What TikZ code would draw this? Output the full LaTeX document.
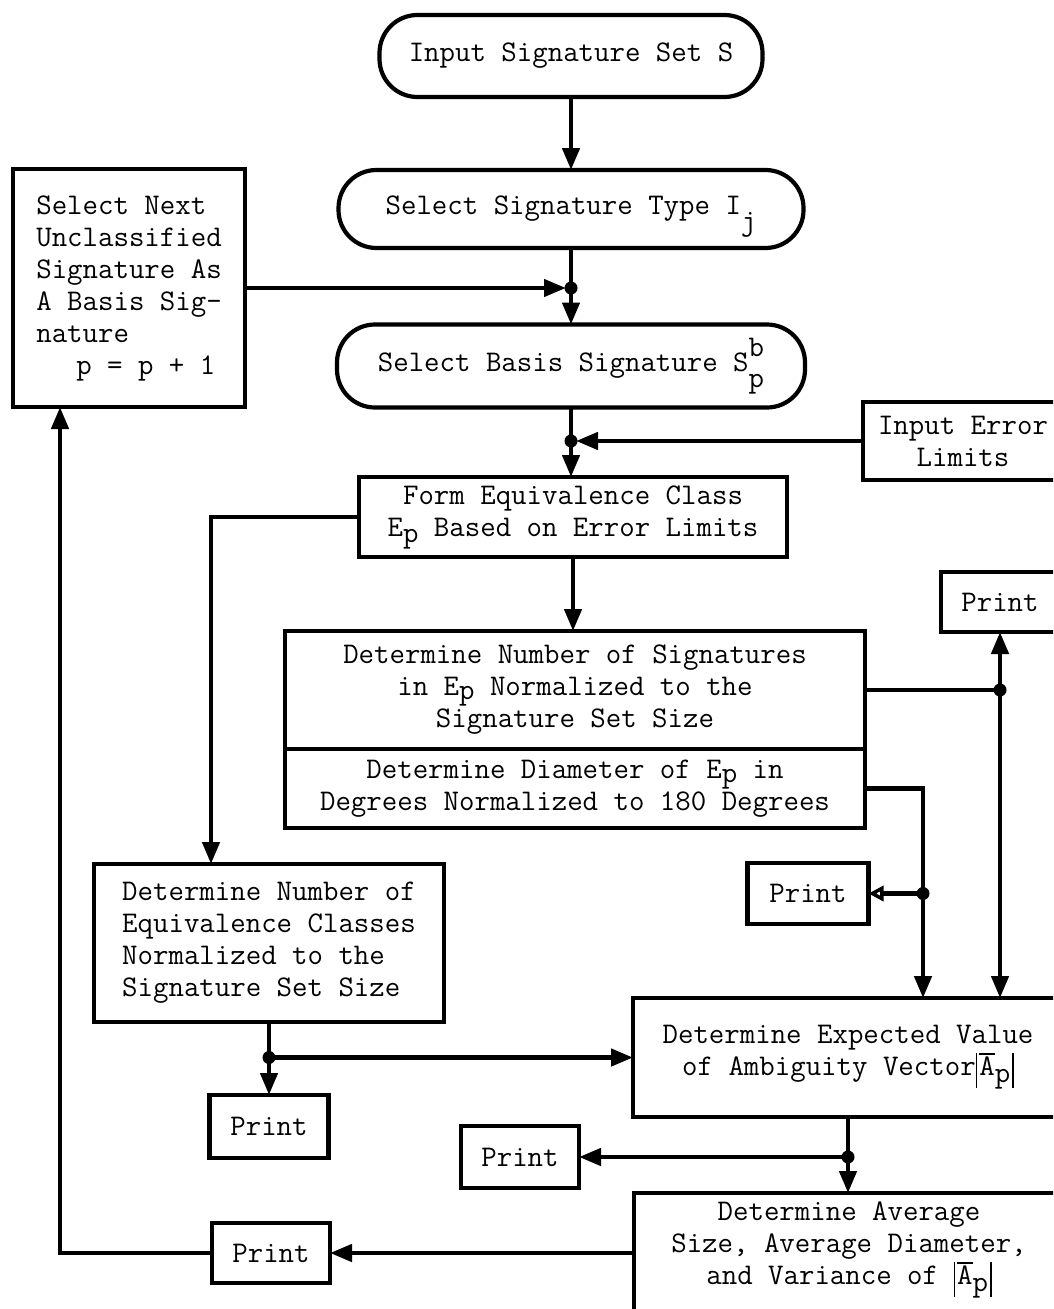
\documentclass[tikz,border=0pt]{standalone}
\usetikzlibrary{arrows.meta}
\newcommand\sbp[1]{\raisebox{-4pt}{#1}}
\newcommand\ovA{\rlap{\rule[21pt]{15.7pt}{1.6pt}}A}
\newcommand\absA{\rule[-12pt]{1.6pt}{35pt}\kern2pt\ovA\raisebox{-7pt}{p}\kern2pt\rule[-12pt]{1.6pt}{35pt}}
\begin{document}
\begin{tikzpicture}[x=1pt,y=-1pt,
  every node/.style={font=\ttfamily\fontsize{30}{32}\selectfont, inner sep=0pt, outer sep=0pt},
  blk/.style={draw, line width=4.2pt, align=center},
  stad/.style={blk, rounded corners=38pt},
  ln/.style={line width=4.5pt},
  arr/.style={ln, -{Triangle[length=22pt,width=17pt]}},
  oarr/.style={ln, -{Triangle[open,length=15pt,width=15pt,line width=3.5pt]}},
  dot/.style={circle, fill, minimum size=13pt, inner sep=0pt},
  lbl/.style={align=center}]
\useasboundingbox (0,0) rectangle (1053,1309);
\clip (0,0) rectangle (1053,1309);

% nodes
\node[stad, minimum width=383pt, minimum height=82pt] (in) at (571,56) {Input Signature Set S};
\node[stad, minimum width=465pt, minimum height=78pt] (type) at (571,209)
  {Select Signature Type I\raisebox{-16pt}[0pt][0pt]{j}};
\node[stad, minimum width=468pt, minimum height=83pt] (basis) at (571,366)
  {Select Basis Signature S\rlap{\raisebox{15pt}[0pt][0pt]{b}}\raisebox{-16pt}[0pt][0pt]{p}};
\node[blk, minimum width=232pt, minimum height=238pt, align=left] (sel) at (129,288)
  {Select Next\\Unclassified\\Signature As\\A Basis Sig-\\nature\\\hspace*{40pt}p = p + 1};
\node[blk, minimum width=428pt, minimum height=80pt] (form) at (573,517)
  {Form Equivalence Class\\E\raisebox{-6pt}{p} Based on Error Limits};
\node[blk, minimum width=200pt, minimum height=78pt] (err) at (963,441) {Input Error\\Limits};
\node[blk, minimum width=580pt, minimum height=118pt] (num) at (575,690)
  {Determine Number of Signatures\\in E\sbp{p} Normalized to the\\Signature Set Size};
\node[blk, minimum width=580pt, minimum height=79pt, anchor=north] (dia) at (num.south)
  {Determine Diameter of E\sbp{p} in\\Degrees Normalized to 180 Degrees};
\node[blk, minimum width=118pt, minimum height=60pt] (pr1) at (1000,602) {Print};
\node[blk, minimum width=121pt, minimum height=61pt] (pr2) at (808,893.5) {Print};
\node[blk, minimum width=350pt, minimum height=158pt, align=left] (eqc) at (269,943)
  {Determine Number of\\Equivalence Classes\\Normalized to the\\Signature Set Size};
\node[blk, minimum width=119pt, minimum height=63pt] (pr3) at (269,1126.5) {Print};
\node[blk, minimum width=430pt, minimum height=119pt] (exp) at (848,1057.5)
  {Determine Expected Value\\of Ambiguity Vector\absA};
\node[blk, minimum width=118pt, minimum height=62pt] (pr4) at (520,1157) {Print};
\node[blk, minimum width=430pt, minimum height=135pt] (avg) at (849,1260.5) {};
\node[lbl] (avgt) at (849,1250) {Determine Average\\Size, Average Diameter,\\and Variance of \absA};
\node[blk, minimum width=118pt, minimum height=60pt] (pr5) at (271,1253) {Print};

% junction coordinates
\coordinate (j1) at (type.south |- sel.east);
\coordinate (j2) at (basis.south |- err.west);
\coordinate (j3) at (pr1.south |- num.east);
\coordinate (cx4) at (923,0);
\coordinate (j4) at (cx4 |- pr2.east);
\coordinate (j5) at (pr3.north |- exp.west);
\coordinate (j6) at (exp.south |- pr4.east);
\coordinate (cx1) at (211,0);
\coordinate (cx3) at (60,0);

% connectors
\draw[arr] (in.south) -- (in.south |- type.north);
\draw[ln] (type.south) -- (j1);
\draw[arr] (j1) -- (j1 |- basis.north);
\draw[arr, shorten >=5pt] (sel.east |- j1) -- (j1);
\draw[ln] (basis.south) -- (j2);
\draw[arr] (j2) -- (j2 |- form.north);
\draw[arr, shorten >=5pt] (err.west |- j2) -- (j2);
\draw[arr] (form.west) -| (cx1 |- eqc.north);
\draw[arr] (form.south) -- (form.south |- num.north);
\draw[ln] (num.east) -- (j3);
\draw[arr] (j3) -- (pr1.south);
\draw[arr] (j3) -- (j3 |- exp.north);
\draw[ln] (dia.east) -| (j4);
\draw[arr] (j4) -- (j4 |- exp.north);
\draw[oarr, shorten <=5pt] (j4) -- (pr2.east);
\draw[ln] (eqc.south) -- (j5);
\draw[arr] (j5) -- (pr3.north);
\draw[arr] (j5) -- (exp.west);
\draw[ln] (exp.south) -- (j6);
\draw[arr] (j6) -- (pr4.east);
\draw[arr] (j6) -- (j6 |- avg.north);
\draw[arr] (avg.west |- pr5.east) -- (pr5.east);
\draw[arr] (pr5.west) -| (cx3 |- sel.south);

% junction dots
\node[dot] (d1) at (j1) {};
\node[dot] (d2) at (j2) {};
\node[dot] (d3) at (j3) {};
\node[dot] (d4) at (j4) {};
\node[dot] (d5) at (j5) {};
\node[dot] (d6) at (j6) {};
\end{tikzpicture}
\end{document}
